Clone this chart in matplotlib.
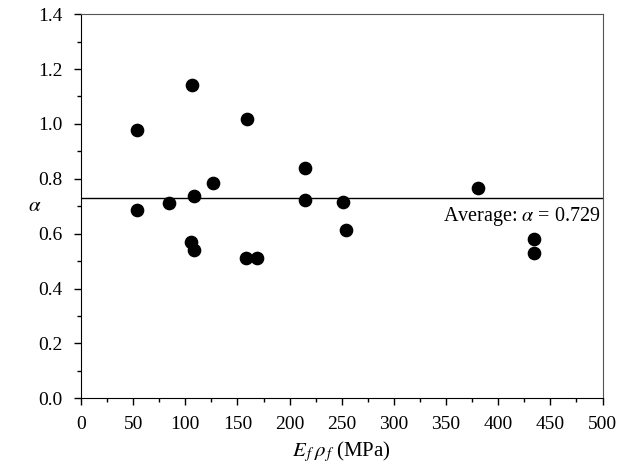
import matplotlib
matplotlib.use('Agg')
import matplotlib.pyplot as plt
from matplotlib.ticker import MultipleLocator

# E_f * rho_f (MPa) and alpha
ef_rho = [54, 54, 106, 84, 108.6, 127, 158.8, 215, 215, 105.4, 108.6,
          158.4, 168.4, 251.4, 254, 381, 434, 434]
alpha = [0.977, 0.685, 1.142, 0.711, 0.737, 0.784, 1.019, 0.838, 0.724,
         0.571, 0.540, 0.512, 0.512, 0.715, 0.612, 0.767, 0.579, 0.528]
alpha_avg = 0.729

plt.rcParams['font.family'] = 'Liberation Serif'
plt.rcParams['mathtext.fontset'] = 'stix'

fig = plt.figure(figsize=(6.18, 4.71), dpi=100)
ax = fig.add_axes([0.131, 0.1544, 0.844, 0.8156])

ax.scatter(ef_rho, alpha, s=78, color='black', zorder=3)
ax.axhline(alpha_avg, color='black', lw=1.0)
ax.text(498, 0.705, r'Average: $\alpha$ = 0.729', ha='right', va='top', fontsize=14.5)

ax.set_xlim(0, 500)
ax.set_ylim(0, 1.4)
ax.xaxis.set_major_locator(MultipleLocator(50))
ax.xaxis.set_minor_locator(MultipleLocator(25))
ax.yaxis.set_major_locator(MultipleLocator(0.2))
ax.yaxis.set_minor_locator(MultipleLocator(0.1))
ax.yaxis.set_major_formatter(plt.FormatStrFormatter('%.1f'))
ax.tick_params(which='major', direction='out', length=5, width=1, labelsize=14)
ax.tick_params(which='minor', direction='out', length=3, width=1)
ax.tick_params(axis='x', which='major', pad=8)
ax.tick_params(axis='y', which='major', pad=8)

for s in ['top', 'right']:
    ax.spines[s].set_color('#555555')

ax.set_xlabel(r'$E_{\,f}\,\rho_{\,f}$ (MPa)', fontsize=15, labelpad=4)
ax.set_ylabel(r'$\alpha$', fontsize=15, rotation=0, va='center')
ax.yaxis.set_label_coords(-0.088, 0.498)

fig.savefig('out.png', dpi=100)
